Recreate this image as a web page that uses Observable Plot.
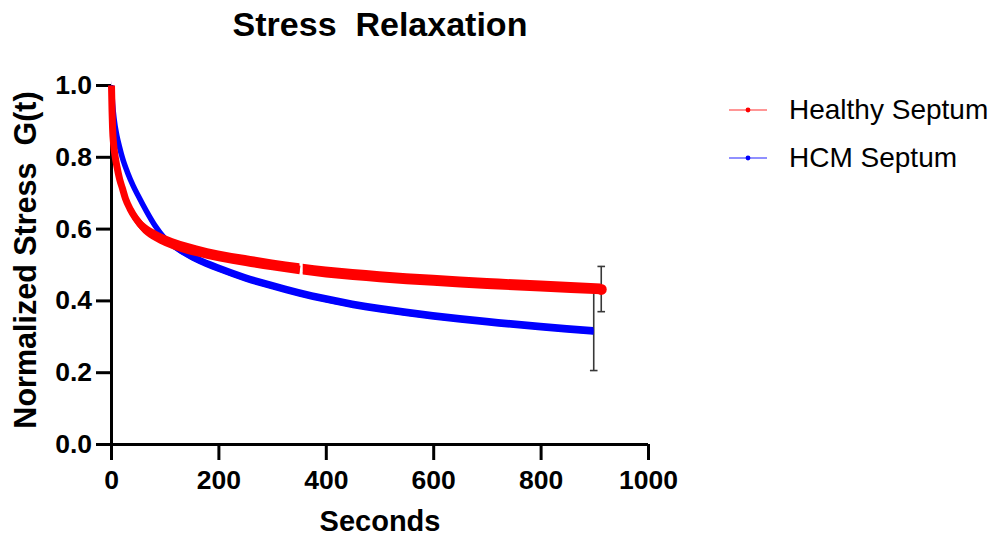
<!DOCTYPE html>
<html>
<head>
<meta charset="utf-8">
<script src="https://cdn.jsdelivr.net/npm/d3@7"></script>
<script src="https://cdn.jsdelivr.net/npm/@observablehq/plot@0.6"></script>
<style>
  body { margin: 0; background: #fff; }
  #wrap { position: relative; width: 996px; height: 536px; font-family: "Liberation Sans", Arial, sans-serif; }
  #wrap svg text { white-space: pre; }
  #legend { position: absolute; left: 729px; top: 86px; }
  .row { display: flex; align-items: center; height: 48px; font-size: 28px; color: #000; }
  .row svg { margin-right: 22px; }
</style>
</head>
<body>
<div id="wrap"><div id="legend"></div></div>
<script>
const title = "Stress  Relaxation";
const xLabel = "Seconds";
const yLabel = "Normalized Stress  G(t)";
const xTicks = [0, 200, 400, 600, 800, 1000];
const yTicks = [0, 0.2, 0.4, 0.6, 0.8, 1.0];

const seriesNames = ["Healthy Septum", "HCM Septum"];
const seriesColors = ["#ff0000", "#0000ff"];
const legendLineColors = ["#ff7373", "#6b6bff"];

// Healthy Septum (red); null marks a short gap in the recording
const healthyT = [0, 1, 2, 4, 7, 10, 15, 20, 26, 35, 45, 60, 80, 100, 130, 160, 200, 250, 300, 351, 354, 357, 400, 450, 500, 600, 700, 800, 912];
const healthyG = [1.0, 0.93, 0.88, 0.835, 0.80, 0.775, 0.74, 0.715, 0.685, 0.655, 0.63, 0.603, 0.582, 0.567, 0.55, 0.538, 0.524, 0.511, 0.499, 0.488, null, 0.487, 0.479, 0.472, 0.466, 0.456, 0.447, 0.440, 0.432];

// HCM Septum (blue)
const hcmT = [0, 2, 5, 10, 15, 20, 30, 40, 50, 65, 80, 100, 120, 150, 200, 250, 300, 350, 400, 450, 500, 600, 700, 800, 898];
const hcmG = [1.0, 0.95, 0.905, 0.86, 0.828, 0.80, 0.757, 0.722, 0.692, 0.65, 0.612, 0.573, 0.549, 0.522, 0.49, 0.463, 0.441, 0.421, 0.404, 0.389, 0.377, 0.357, 0.341, 0.327, 0.315];

// error bars at the final point of each series
const errT = [912, 898];
const errMean = [0.432, 0.315];
const errLow = [0.370, 0.206];
const errHigh = [0.496, 0.43];

const healthy = healthyT.map((t, i) => ({t, g: healthyG[i]}));
const hcm = hcmT.map((t, i) => ({t, g: hcmG[i]}));
const errs = errT.map((t, i) => ({t, mean: errMean[i], lo: errLow[i], hi: errHigh[i]}));

// vertical half-thickness of the dense marker band of each trace (style)
const redBand = 0.0152;
const blueBand = 0.0108;

const capSymbol = {
  draw(context, size) {
    const r = Math.sqrt(size / Math.PI);
    context.moveTo(-r, 0);
    context.lineTo(r, 0);
  }
};

const bandLo = (b) => (d) => d.g == null ? NaN : d.g - b;
const bandHi = (b) => (d) => d.g == null ? NaN : d.g + b;

const chart = Plot.plot({
  width: 996,
  height: 536,
  marginLeft: 111,
  marginRight: 348,
  marginTop: 85,
  marginBottom: 92,
  style: {fontFamily: '"Liberation Sans", Arial, sans-serif', background: "transparent", color: "#000"},
  x: {domain: [0, 1000]},
  y: {domain: [0, 1]},
  marks: [
    Plot.axisY({ticks: yTicks, tickFormat: d3.format(".1f"), tickSize: 15, tickPadding: 4.5, strokeWidth: 3, stroke: "#000", fontSize: 26.5, fontWeight: "bold", fill: "#000", label: null}),
    Plot.axisX({ticks: xTicks, tickFormat: d => String(d), tickSize: 16, tickPadding: 10, strokeWidth: 3, stroke: "#000", fontSize: 26.5, fontWeight: "bold", fill: "#000", label: null}),
    Plot.ruleX([0], {stroke: "#000", strokeWidth: 3}),
    Plot.ruleY([0], {stroke: "#000", strokeWidth: 3}),
    Plot.ruleX(errs, {x: "t", y1: "lo", y2: "hi", stroke: "#383838", strokeWidth: 1.6}),
    Plot.dot(errs, {x: "t", y: "lo", symbol: capSymbol, r: 3.8, stroke: "#383838", strokeWidth: 1.6}),
    Plot.dot(errs, {x: "t", y: "hi", symbol: capSymbol, r: 3.8, stroke: "#383838", strokeWidth: 1.6}),
    Plot.areaY(hcm, {x: "t", y1: bandLo(blueBand), y2: bandHi(blueBand), fill: seriesColors[1], curve: "monotone-x"}),
    Plot.line(hcm, {x: "t", y: "g", stroke: seriesColors[1], strokeWidth: 5.5, curve: "monotone-x", strokeLinecap: "butt"}),
    Plot.areaY(healthy, {x: "t", y1: bandLo(redBand), y2: bandHi(redBand), fill: seriesColors[0], curve: "monotone-x"}),
    Plot.line(healthy, {x: "t", y: "g", stroke: seriesColors[0], strokeWidth: 7, curve: "monotone-x", strokeLinecap: "butt"}),
    Plot.dot(healthy.slice(-1), {x: "t", y: "g", r: 5.5, fill: seriesColors[0]}),
    Plot.text([title], {frameAnchor: "top", dy: -60, fontSize: 34, fontWeight: "bold", fill: "#000", lineAnchor: "middle"}),
    Plot.text([xLabel], {frameAnchor: "bottom", dy: 77, fontSize: 29, fontWeight: "bold", fill: "#000", lineAnchor: "middle"}),
    Plot.text([yLabel], {frameAnchor: "left", textAnchor: "middle", dx: -85, dy: -5, rotate: -90, fontSize: 30.5, fontWeight: "bold", fill: "#000", lineAnchor: "middle"})
  ]
});

const wrap = document.getElementById("wrap");
wrap.insertBefore(chart, wrap.firstChild);

const legend = document.getElementById("legend");
seriesNames.forEach((name, i) => {
  const row = document.createElement("div");
  row.className = "row";
  row.innerHTML = `<svg width="38" height="12"><line x1="0" y1="6" x2="38" y2="6" stroke="${legendLineColors[i]}" stroke-width="1.6"/><circle cx="19" cy="6" r="2.4" fill="${seriesColors[i]}"/></svg><span>${name}</span>`;
  legend.appendChild(row);
});
</script>
</body>
</html>
